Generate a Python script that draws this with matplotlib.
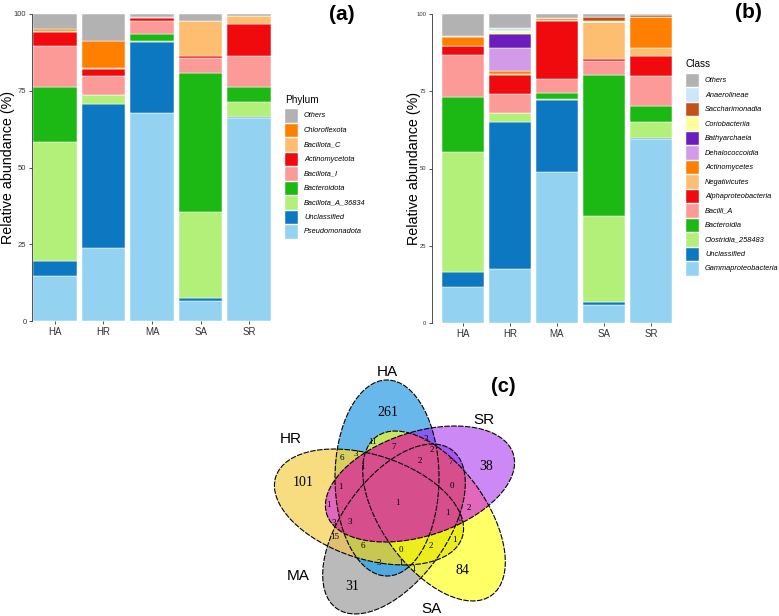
import numpy as np
import matplotlib
matplotlib.use("Agg")
import matplotlib.pyplot as plt
from matplotlib.patches import Rectangle, Ellipse

W, H = 779, 616
plt.rcParams['font.family'] = ['Liberation Sans', 'DejaVu Sans']

# ---------------- data ----------------
samples = ['HA', 'HR', 'MA', 'SA', 'SR']

phylum_names = ['Pseudomonadota', 'Unclassified', 'Bacillota_A_36834', 'Bacteroidota',
                'Bacillota_I', 'Actinomycetota', 'Bacillota_C', 'Chloroflexota', 'Others']
pseudomonadota = [14.7, 23.8, 67.8, 6.6, 66.0]
unclassified_p = [4.8, 47.0, 23.2, 0.8, 0.4]
bacillota_a = [38.9, 2.9, 0.3, 28.0, 4.9]
bacteroidota = [17.8, 0.0, 2.1, 45.5, 5.0]
bacillota_i = [13.5, 6.2, 4.4, 4.7, 10.0]
actinomycetota = [4.5, 2.1, 0.8, 0.7, 10.3]
bacillota_c = [0.3, 0.3, 0.3, 11.5, 2.7]
chloroflexota = [0.7, 8.8, 0.1, 0.0, 0.0]
others_p = [4.8, 8.9, 1.0, 2.2, 0.7]
phylum_values = [pseudomonadota, unclassified_p, bacillota_a, bacteroidota, bacillota_i,
                 actinomycetota, bacillota_c, chloroflexota, others_p]

class_names = ['Gammaproteobacteria', 'Unclassified', 'Clostridia_258483', 'Bacteroidia',
               'Bacilli_A', 'Alphaproteobacteria', 'Negativicutes', 'Actinomycetes',
               'Dehalococcoidia', 'Bathyarchaeia', 'Coriobacteriia', 'Saccharimonadia',
               'Anaerolineae', 'Others']
gammaproteobacteria = [11.7, 17.6, 48.8, 5.9, 59.7]
unclassified_c = [4.8, 47.3, 23.4, 0.9, 0.3]
clostridia = [39.0, 3.0, 0.3, 27.8, 4.9]
bacteroidia = [17.8, 0.0, 1.9, 45.7, 5.2]
bacilli_a = [13.5, 6.2, 4.5, 4.6, 9.9]
alphaproteobacteria = [2.7, 6.1, 18.7, 0.5, 6.3]
negativicutes = [0.2, 0.4, 0.3, 11.9, 2.7]
actinomycetes = [2.8, 0.8, 0.7, 0.0, 10.0]
dehalococcoidia = [0.4, 7.5, 0.0, 0.0, 0.0]
bathyarchaeia = [0.0, 4.6, 0.0, 0.0, 0.0]
coriobacteriia = [0.0, 0.9, 0.2, 0.3, 0.0]
saccharimonadia = [0.0, 0.0, 0.0, 1.3, 0.6]
anaerolineae = [0.0, 1.2, 0.0, 0.0, 0.0]
others_c = [7.1, 4.4, 1.2, 1.1, 0.4]
class_values = [gammaproteobacteria, unclassified_c, clostridia, bacteroidia, bacilli_a,
                alphaproteobacteria, negativicutes, actinomycetes, dehalococcoidia,
                bathyarchaeia, coriobacteriia, saccharimonadia, anaerolineae, others_c]

yticks = [0, 25, 50, 75, 100]

venn_sets = ['HA', 'SR', 'SA', 'MA', 'HR']
venn_counts = [261, 38, 101, 31, 84, 11, 7, 3, 2, 7, 2, 6, 3, 1, 1, 1, 1, 0, 1, 2, 0,
               3, 3, 15, 6, 0, 2, 1, 3, 1, 1]

# ---------------- styles ----------------
phylum_colors = ['#94D2F2', '#0C78C2', '#B2F07A', '#1CB814', '#FC9A98', '#F00A0E',
                 '#FDBE72', '#FF7F00', '#B2B2B2']
class_colors = ['#94D2F2', '#0C78C2', '#B2F07A', '#1CB814', '#FC9A98', '#F00A0E',
                '#FDBE72', '#FF7F00', '#D29BEA', '#6A1CBE', '#FFFF99', '#C4501A',
                '#CCE6F8', '#B2B2B2']

fig = plt.figure(figsize=(W / 100, H / 100), dpi=100)


def fx(x):
    return x / W


def fy(y):
    return 1 - y / H


def bar_panel(rect, xlim, names, values, colors, ylab_right, ytick_fs):
    l, t, r, b = rect
    ax = fig.add_axes([fx(l), fy(b), fx(r) - fx(l), fy(t) - fy(b)])
    x = np.arange(1, len(samples) + 1)
    bottom = np.zeros(len(samples))
    for vals, col in zip(values, colors):
        v = np.array(vals)
        ax.bar(x, v, 0.9, bottom=bottom, color=col, edgecolor='white', linewidth=0.35)
        bottom += v
    ax.set_xlim(*xlim)
    ax.set_ylim(0, 100)
    ax.set_xticks(x)
    ax.set_xticklabels(samples, fontsize=7, color='#333333')
    ax.set_yticks(yticks)
    ax.set_yticklabels([str(v) for v in yticks], fontsize=ytick_fs, color='#333333')
    for s in ['top', 'right', 'bottom']:
        ax.spines[s].set_visible(False)
    ax.spines['left'].set_color('#333333')
    ax.spines['left'].set_linewidth(0.6)
    ax.tick_params(axis='both', length=2.5, width=0.6, color='#333333', pad=1.5)
    ax.set_ylabel('Relative abundance (%)', fontsize=10.3)
    ax.yaxis.set_label_coords((ylab_right - l) / (r - l), 0.5)
    return ax


bar_panel((32, 14, 272, 321), (0.53, 5.47), phylum_names, phylum_values, phylum_colors, 15, 5.5)
bar_panel((432, 14, 679, 323), (0.34, 5.6), class_names, class_values, class_colors, 421, 4.2)


def legend(title, names, colors, x0, ytitle, ykey0, step, size, textx):
    fig.text(fx(x0), fy(ytitle), title, fontsize=7.2, ha='left', va='center')
    for i, (nm, col) in enumerate(zip(names[::-1], colors[::-1])):
        yt = ykey0 + i * step
        fig.add_artist(Rectangle((fx(x0), fy(yt + size)), size / W, size / H,
                                 facecolor=col, edgecolor='white', linewidth=0.3,
                                 transform=fig.transFigure))
        fig.text(fx(textx), fy(yt + size / 2), nm, fontsize=5.3, style='italic',
                 ha='left', va='center')


legend('Phylum', phylum_names, phylum_colors, 285, 100, 109.3, 14.5, 13.3, 304)
legend('Class', class_names, class_colors, 686, 64, 74, 14.48, 13.3, 705)

fig.text(fx(342), fy(14), '(a)', fontsize=15, fontweight='bold', ha='center', va='center')
fig.text(fx(748), fy(13), '(b)', fontsize=15, fontweight='bold', ha='center', va='center')

# ---------------- Venn ----------------
vax = fig.add_axes([fx(200), 0, fx(600) - fx(200), fy(340)])
vax.axis('off')

ell_centers = [(387, 478), (420, 484), (434, 516), (394, 529), (369, 507)]
ell_angles = [90, 162, 234, 306, 18]
semi_a, semi_b = 98, 52

xs = np.arange(250, 560, 0.5) + 0.25
ys = np.arange(360, 616, 0.5) + 0.25
X, Y = np.meshgrid(xs, ys)
code = np.zeros(X.shape, dtype=int)
for k, ((cx, cy), ang) in enumerate(zip(ell_centers, ell_angles)):
    th = np.deg2rad(ang)
    dx, dy = X - cx, Y - cy
    u = dx * np.cos(th) + dy * np.sin(th)
    v = -dx * np.sin(th) + dy * np.cos(th)
    inside = (u / semi_a) ** 2 + (v / semi_b) ** 2 <= 1
    code |= inside.astype(int) << k


def region_color(c):
    ha, sr, sa, ma, hr = [(c >> k) & 1 for k in range(5)]
    n = ha + sr + sa + ma + hr
    if n == 0:
        return (1, 1, 1, 0)
    if n == 1:
        if ha: col = (106, 184, 236)
        elif sr: col = (204, 136, 245)
        elif sa: col = (255, 255, 102)
        elif ma: col = (186, 186, 186)
        else: col = (248, 220, 128)
    elif sr:
        if hr or sa:
            if n == 2:
                col = (226, 104, 190)
            else:
                col = (214, 78, 140)
        else:
            if ha and ma: col = (140, 50, 220)
            elif ha: col = (138, 92, 240)
            else: col = (168, 84, 240)
    elif sa:
        if hr: col = (238, 238, 30)
        elif ha and ma: col = (220, 226, 60)
        elif ha: col = (200, 232, 96)
        else: col = (232, 232, 80)
    elif hr:
        if ha and ma: col = (200, 200, 80)
        elif ha: col = (216, 208, 96)
        else: col = (224, 192, 112)
    else:
        col = (80, 168, 224)
    return tuple(np.array(col) / 255.0) + (1,)


lut = np.array([region_color(c) for c in range(32)])
vax.imshow(lut[code], extent=(250, 560, 616, 360), interpolation='antialiased', aspect='auto')
for (cx, cy), ang in zip(ell_centers, ell_angles):
    vax.add_patch(Ellipse((cx, cy), 2 * semi_a, 2 * semi_b, angle=ang, fill=False,
                          edgecolor='black', linewidth=0.8, linestyle=(0, (5, 1.2))))
vax.set_xlim(200, 600)
vax.set_ylim(616, 340)

set_label_pos = [(387, 372), (484, 420), (431, 609), (298, 576), (291, 439)]
for nm, (x, y) in zip(venn_sets, set_label_pos):
    vax.text(x, y, nm, fontsize=11, ha='center', va='center')

count_pos = [(388, 413), (486, 467), (303, 483), (352, 586), (462, 570),
             (373, 442), (394, 447), (426, 439), (432, 450), (451, 462), (420, 461),
             (342, 458), (356, 454), (362, 467), (340, 487), (328, 505), (397, 503),
             (452, 486), (447, 513), (469, 508), (460, 519), (334, 523), (350, 522),
             (335, 537), (363, 546), (401, 550), (431, 546), (454, 540), (379, 563),
             (400, 563), (413, 569)]
for i, (cnt, (x, y)) in enumerate(zip(venn_counts, count_pos)):
    fs = 10 if i < 5 else 6.5
    vax.text(x, y, str(cnt), fontsize=fs, ha='center', va='center',
             family='Liberation Serif')

fig.text(fx(503), fy(387), '(c)', fontsize=14.5, fontweight='bold', ha='center', va='center')

fig.savefig('out.png', dpi=100)
